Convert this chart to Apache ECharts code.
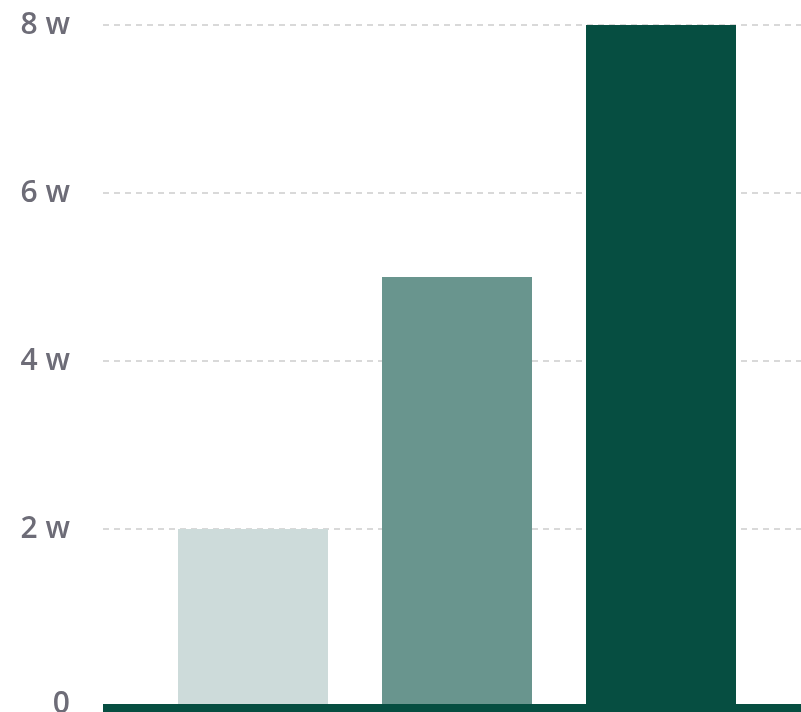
<!DOCTYPE html>
<html>
<head>
<meta charset="utf-8">
<script src="https://cdn.jsdelivr.net/npm/echarts@6/dist/echarts.min.js"></script>
<style>html,body{margin:0;padding:0;background:#fff;}#c{width:801px;height:712px;}</style>
</head>
<body>
<div id="c"></div>
<script>
const categories = [''];
const seriesNames = ['A', 'B', 'C'];
const seriesValues = [20000, 50000, 80000];
const seriesColors = ['#cddbda', '#69958e', '#064e41'];
const yTickValues = [0, 20000, 40000, 60000, 80000];
const yTickLabels = ['0', '2 w', '4 w', '6 w', '8 w'];

const axisMin = -833;
const chart = echarts.init(document.getElementById('c'), null, {renderer: 'canvas'});
chart.setOption({
  animation: false,
  grid: {left: 103, right: -10, top: 25, bottom: 8, containLabel: false, outerBoundsMode: 'none'},
  xAxis: {
    type: 'category',
    data: categories,
    axisLine: {show: true, onZero: false, lineStyle: {color: '#064e41', width: 8, cap: 'butt'}},
    offset: 4,
    axisTick: {show: false},
    axisLabel: {show: false},
    splitLine: {show: false}
  },
  yAxis: {
    type: 'value',
    min: axisMin,
    max: 80000,
    startValue: axisMin,
    axisLine: {show: false},
    axisTick: {show: false},
    splitLine: {show: true, lineStyle: {
      color: ['rgba(0,0,0,0)', 'rgba(0,0,0,0)', '#d9d9d9', '#d9d9d9', '#d9d9d9', '#d9d9d9'],
      width: 2, type: [6, 5]}},
    axisLabel: {
      margin: 33,
      color: '#6d6c77',
      fontFamily: 'Open Sans',
      fontWeight: 600,
      fontSize: 30,
      formatter: function (v) {
        if (v < 0) return yTickLabels[0];
        const i = yTickValues.indexOf(v);
        return i > 0 ? yTickLabels[i] : '';
      }
    }
  },
  series: seriesNames.map((n, i) => ({
    name: n,
    type: 'bar',
    barWidth: 150,
    barGap: '36%',
    itemStyle: {color: seriesColors[i]},
    data: [seriesValues[i]]
  }))
});
</script>
</body>
</html>
